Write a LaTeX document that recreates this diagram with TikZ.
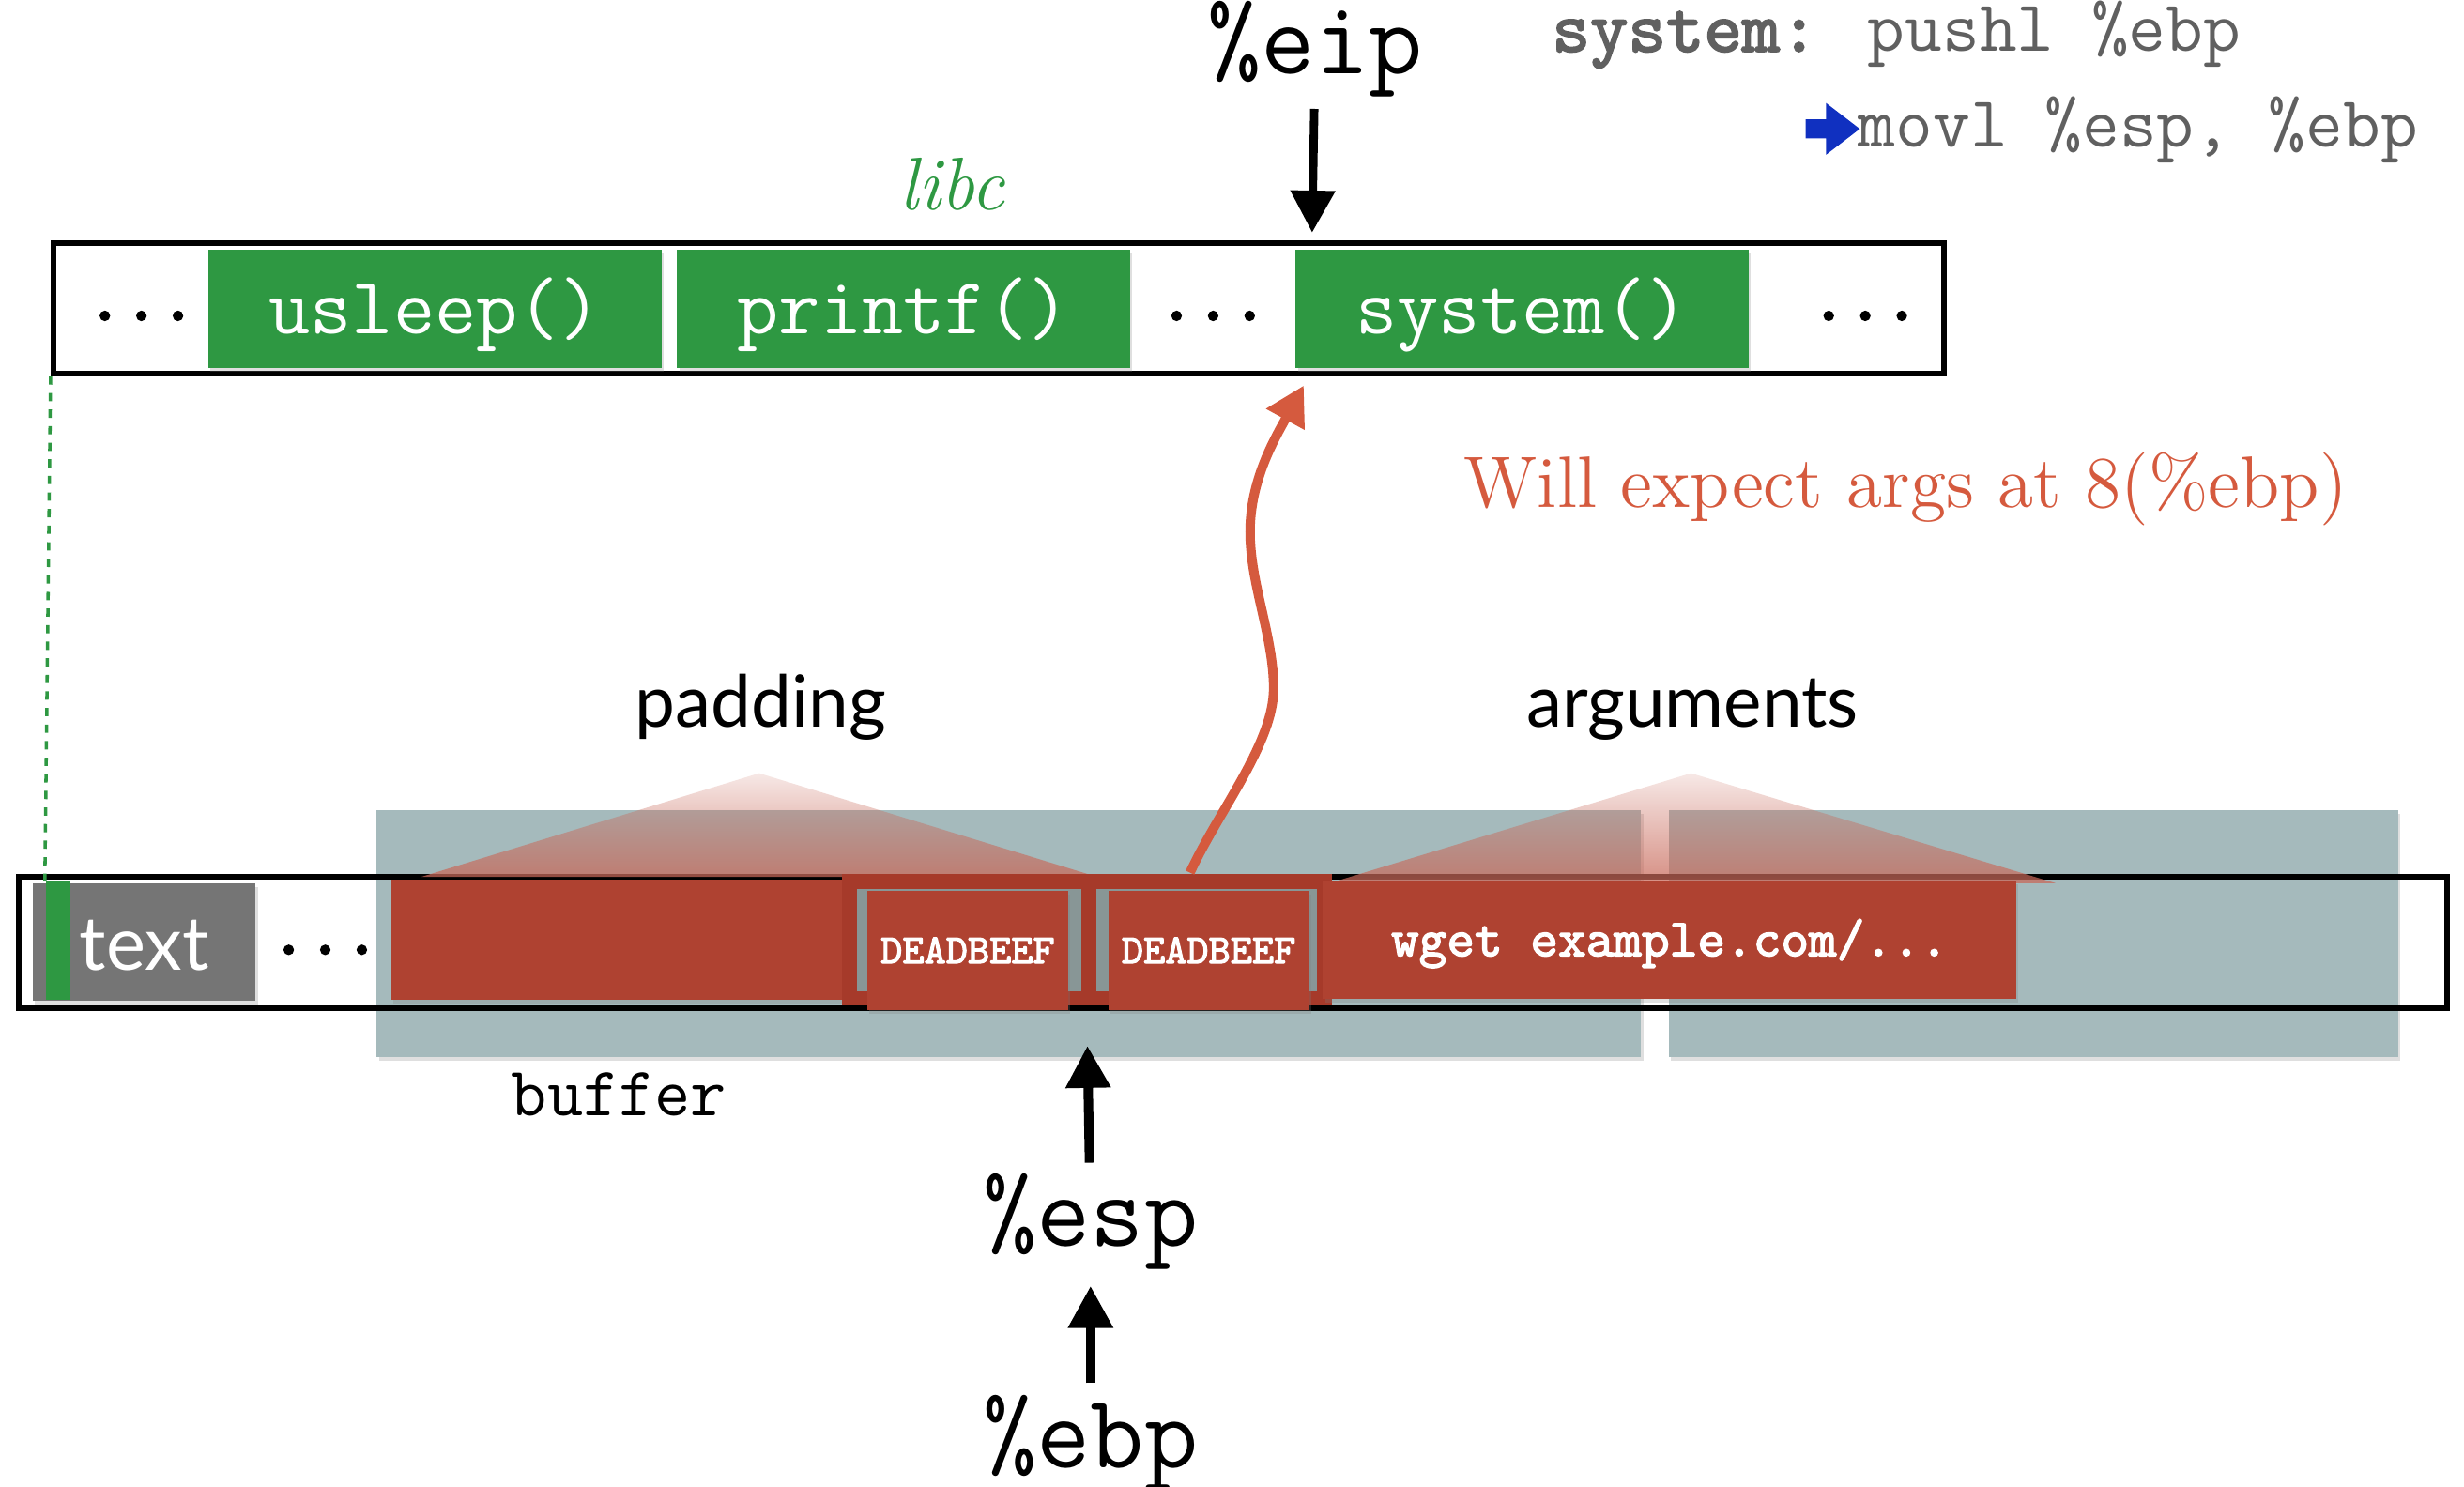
\documentclass[tikz,border=0pt]{standalone}
\usepackage{fontspec}
\setsansfont{Lato}
\newfontfamily\ttheavy{lmmono10-regular.otf}[FakeBold=2.5]
\usetikzlibrary{arrows.meta,fadings,shadows}

\definecolor{fngreen}{RGB}{46,152,66}
\definecolor{ovred}{RGB}{175,66,49}
\definecolor{frred}{RGB}{166,58,42}
\definecolor{bufgray}{RGB}{165,186,188}
\definecolor{holegray}{RGB}{136,150,150}
\definecolor{txtgray}{RGB}{117,117,117}
\definecolor{codegray}{RGB}{96,96,96}
\definecolor{jmpred}{RGB}{213,90,62}
\definecolor{pcblue}{RGB}{16,48,192}
\definecolor{tripink}{RGB}{200,105,90}

\newcommand{\fsz}[1]{\fontsize{#1}{#1}\selectfont}
\tikzfading[name=fadeup, top color=transparent!85, bottom color=transparent!25]

\begin{document}
\begin{tikzpicture}[
    x=0.01cm, y=-0.01cm,
    shade/.style={drop shadow={opacity=0.25, shadow xshift=0.4pt, shadow yshift=-0.7pt}},
    mem/.style={draw=black, line width=1pt, inner sep=0pt},
    buf/.style={fill=bufgray, inner sep=0pt, minimum height=1.573cm, shade},
    fn/.style={
       fill=fngreen, text=white, inner sep=0pt,
       font=\ttfamily\fsz{14.6},
       minimum width=2.88cm, minimum height=0.752cm,
       text height=10.5pt, text depth=1.4pt, shade
        },
    ovr/.style={fill=ovred, text=white, inner sep=0pt,
       font=\ttheavy\fsz{9.6}},
    framebox/.style={fill=frred, inner sep=0pt, minimum height=0.84cm},
    hole/.style={fill=holegray, inner sep=0pt, minimum height=0.653cm},
    beef/.style={ovr, font=\ttheavy\fsz{7.5},
       text height=5.5pt, text depth=0.95pt,
       minimum width=1.277cm, minimum height=0.758cm, shade},
    dots/.style={font=\ttheavy\fsz{12.6}, inner sep=0pt},
    reg/.style={font=\ttfamily\fsz{18.9}, inner sep=0pt},
    code/.style={font=\ttfamily\fsz{13.1}, text=codegray, inner sep=0pt},
    area/.style={font=\sffamily\fsz{13}, inner sep=0pt},
    ptr/.style={line width=1.7pt, -{Triangle[length=7.6pt,width=7.8pt]}},
    jump/.style={draw=jmpred, line width=1.7pt, -{Triangle[length=7pt,width=7.5pt]}}
  ]
\useasboundingbox (0,0) rectangle (1568,946);

\node[buf, minimum width=8.04cm] (buffer) at (642,594) {};
\node[buf, minimum width=4.64cm] (argarea) at (1294,594) {};

\node[mem, minimum width=12.024cm, minimum height=0.829cm] (libcbar) at (635.5,196.25) {};
\node[mem, minimum width=15.445cm, minimum height=0.835cm] (stack) at (784.75,599.75) {};

\fill[tripink, path fading=fadeup] (483,492) -- (268,558) -- (698,558) -- cycle;
\fill[tripink, path fading=fadeup] (1076,492) -- (846,562) -- (1308,562) -- cycle;

\foreach \nm/\cx/\lbl in {usleep/276.75/usleep(), printf/575/printf(), system/968.5/system()}
   \node[fn] (\nm) at (\cx,196.4) {\lbl};
\foreach [count=\j] \x in {90,772,1187}
   \node[dots] (ldots-\j) at (\x,201) {...};
\node[font=\itshape\fsz{13.5}, text=fngreen, anchor=base, inner sep=0pt] (libc) at (606,133.4) {libc};

\node[fill=txtgray, text=white, font=\sffamily\fsz{13.5}, inner sep=0pt,
      text height=10.6pt, text depth=0.5pt,
      minimum width=1.416cm, minimum height=0.75cm, shade] (textseg) at (91.8,599.5) {text};
\node[fill=fngreen, inner sep=0pt, minimum width=0.155cm, minimum height=0.75cm] (textmark) at (37,598.5) {};
\node[dots] (sdots) at (207,604.4) {...};

\node[ovr, minimum width=2.91cm, minimum height=0.762cm, shade] (pad) at (394.5,598) {};
\foreach [count=\j] \fx/\fw/\hx/\hw/\bx in {616.7/1.614/616.8/1.428/615.85, 772.4/1.5/767.9/1.398/769.15} {
   \node[framebox, minimum width=\fw cm] (frame-\j) at (\fx,598) {};
   \node[hole, minimum width=\hw cm] (hole-\j) at (\hx,598.15) {};
   \node[beef] (beef-\j) at (\bx,604.9) {DEADBEEF};
  }
\node[ovr, minimum width=4.41cm, minimum height=0.751cm, text height=7pt, text depth=1.14pt, shade]
   (wget) at (1062.5,598) {wget example.com/...};

\node[area, anchor=base] (padding) at (484,462.4) {padding};
\node[area, anchor=base] (arguments) at (1077,462.4) {arguments};
\node[font=\ttfamily\fsz{12.6}, anchor=base, inner sep=0pt] (buflabel) at (394,709.9) {buffer};

\draw[fngreen, line width=0.6pt, dash pattern=on 1.5pt off 1.5pt] (libcbar.south west) -- (textmark.north west);

\node[reg, anchor=base] (eip) at (837,46.8) {\%eip};
\coordinate (eiptip) at (835,148);
\draw[ptr, line width=1.5pt, shorten <=2pt] (eip) -- (eiptip);

\node[reg, anchor=base] (esp) at (694,793) {\%esp};
\node[reg, anchor=base] (ebp) at (694,934) {\%ebp};
\coordinate (esptip) at (692,665.5);
\draw[ptr, shorten <=1.8pt] (esp) -- (esptip);
\draw[ptr, shorten <=2pt, shorten >=2.8pt] (ebp) -- (esp);

\node[code, anchor=base west] (asm-1) at (987,32.8) {{\ttheavy system:} pushl \%ebp};
\node[code, anchor=base west] (asm-2) at (1182,93.2) {movl \%esp, \%ebp};
\coordinate (pc) at (1149,82);
\fill[pcblue] (pc) ++(0,-6) -- ++(13,0) -- ++(0,-10.5) -- ++(21.5,16.5) -- ++(-21.5,16.5)
   -- ++(0,-10.5) -- ++(-13,0) -- cycle;

\node[font=\fsz{13.2}, text=jmpred, anchor=base west, inner sep=0pt] (expect) at (931,322.6) {Will expect args at 8(\%ebp)};

\draw[jump] ([xshift=-4.3pt]frame-2.north) .. controls (775.4,516) and (810.5,473) .. (810.5,438)
   .. controls (810.5,405) and (795.5,371.5) .. (795.5,338.5)
   .. controls (795.5,305.5) and (811.1,279.3) .. ([xshift=1.7pt,yshift=-3pt]system.south west);
\end{tikzpicture}
\end{document}
